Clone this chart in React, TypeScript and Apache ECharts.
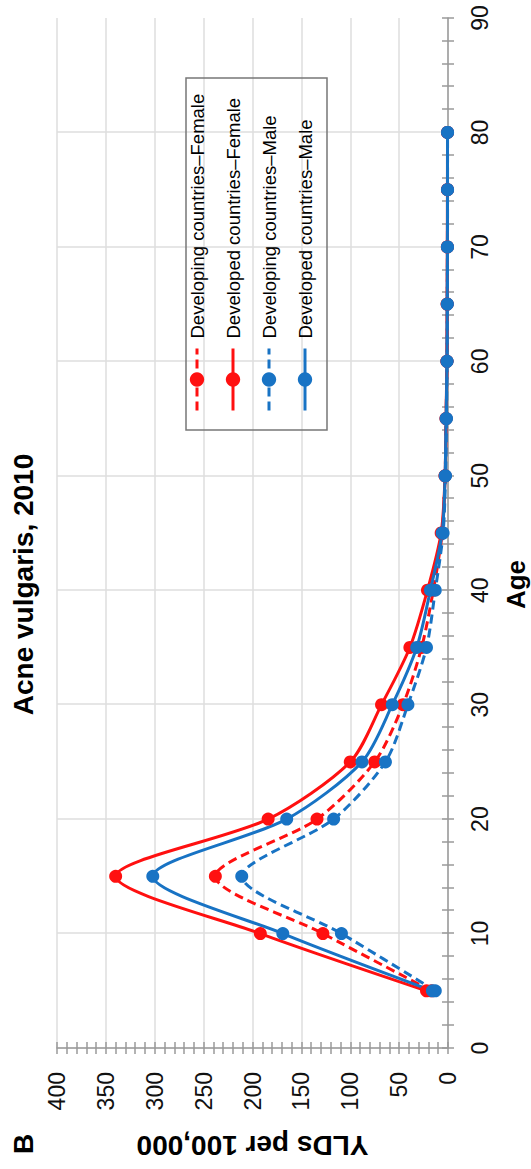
import { useEffect, useRef } from "react";
import * as echarts from "echarts";

// Age groups (years) and YLDs per 100,000 for acne vulgaris, 2010
const ages = [5, 10, 15, 20, 25, 30, 35, 40, 45, 50, 55, 60, 65, 70, 75, 80];
const developingFemale = [17, 128, 238, 134, 75, 46, 27, 15, 6, 3, 2, 1, 0.8, 0.6, 0.5, 0.5];
const developedFemale = [22, 192, 340, 184, 100, 68, 39, 21, 7, 3, 2, 1.2, 0.9, 0.7, 0.6, 0.5];
const developingMale = [13, 109, 211, 117, 64, 41, 22, 13, 5, 2.5, 1.5, 1, 0.7, 0.5, 0.4, 0.4];
const developedMale = [16, 169, 302, 165, 88, 57, 32, 18, 6, 3, 2, 1, 0.8, 0.6, 0.5, 0.5];

const ageTicks = { min: 0, max: 90, interval: 10 };
const yldTicks = { min: 0, max: 400, interval: 50 };

const FONT = "'Liberation Sans', Arial, Helvetica, sans-serif";
const RED = "#ff1010";
const BLUE = "#1873c4";
const GRID_COLOR = "#dedede";
const AXIS_COLOR = "#9a9a9a";

const pairs = (vals: number[]) => ages.map((a, i) => [a, vals[i]]);

export default function App() {
  const ref = useRef<HTMLDivElement>(null);

  useEffect(() => {
    if (!ref.current) return;
    const chart = echarts.init(ref.current, null, { renderer: "svg" });

    const lineSeries = (name: string, vals: number[], color: string, dashed: boolean) => ({
      name,
      type: "line",
      xAxisIndex: 0,
      yAxisIndex: 0,
      data: pairs(vals),
      smooth: 0.28,
      symbol: "circle",
      symbolSize: 13,
      itemStyle: { color },
      lineStyle: { color, width: 3, type: dashed ? [9, 5] : "solid" },
      emphasis: { disabled: true },
    });

    const tickAxisBase = {
      axisLine: { show: false },
      axisLabel: { show: false },
      splitLine: { show: false },
      axisTick: { show: true, inside: true, length: 6, lineStyle: { color: AXIS_COLOR, width: 1.5 } },
      minorTick: { show: true, splitNumber: 5, length: 6, lineStyle: { color: AXIS_COLOR, width: 1.5 } },
    };

    chart.setOption({
      animation: false,
      backgroundColor: "#ffffff",
      textStyle: { fontFamily: FONT },
      title: [
        {
          text: "Acne vulgaris, 2010",
          left: "center",
          top: 4,
          textStyle: { fontFamily: FONT, fontSize: 28, fontWeight: "bold", color: "#000" },
        },
        {
          text: "B",
          left: 10,
          top: 4,
          textStyle: { fontFamily: FONT, fontSize: 28, fontWeight: "bold", color: "#000" },
        },
        {
          text: "Age",
          left: "center",
          top: 498,
          textStyle: { fontFamily: FONT, fontSize: 26, fontWeight: "bold", color: "#000" },
        },
      ],
      grid: { left: 121, right: 18, top: 57, bottom: 83, containLabel: false, outerBoundsMode: "none" },
      legend: {
        orient: "vertical",
        left: 757,
        top: 187,
        padding: 0,
        itemWidth: 62,
        itemHeight: 18,
        itemGap: 16,
        selectedMode: false,
        lineStyle: { width: 3 },
        textStyle: { fontFamily: FONT, fontSize: 18.5, lineHeight: 20, color: "#000", padding: [0, 0, 0, 5] },
        data: [
          "Developing countries–Female",
          "Developed countries–Female",
          "Developing countries–Male",
          "Developed countries–Male",
        ],
      },
      graphic: [
        {
          // frame around the legend
          type: "rect",
          shape: { x: 739, y: 186, width: 352, height: 141 },
          style: { fill: "none", stroke: "#777", lineWidth: 1.5 },
          silent: true,
          z: 100,
        },
      ],
      xAxis: [
        {
          type: "value",
          ...ageTicks,
          position: "bottom",
          axisLine: { show: true, onZero: false, lineStyle: { color: AXIS_COLOR, width: 1.5 } },
          axisTick: { show: true, length: 6, lineStyle: { color: AXIS_COLOR, width: 1.5 } },
          minorTick: { show: true, splitNumber: 5, length: 6, lineStyle: { color: AXIS_COLOR, width: 1.5 } },
          axisLabel: { fontFamily: FONT, fontSize: 23, color: "#111", margin: 20 },
          splitLine: { show: true, showMaxLine: false, lineStyle: { color: GRID_COLOR, width: 1.5 } },
        },
        { type: "value", ...ageTicks, position: "bottom", ...tickAxisBase },
      ],
      yAxis: [
        {
          type: "value",
          ...yldTicks,
          position: "left",
          name: "YLDs per 100,000",
          nameLocation: "middle",
          nameRotate: 90,
          nameGap: 83,
          nameTextStyle: { fontFamily: FONT, fontSize: 28, fontWeight: "bold", color: "#000" },
          axisLine: { show: true, onZero: false, lineStyle: { color: AXIS_COLOR, width: 1.5 } },
          axisTick: { show: true, length: 6, lineStyle: { color: AXIS_COLOR, width: 1.5 } },
          minorTick: { show: true, splitNumber: 5, length: 6, lineStyle: { color: AXIS_COLOR, width: 1.5 } },
          axisLabel: { fontFamily: FONT, fontSize: 23, color: "#111", margin: 24 },
          splitLine: { show: true, lineStyle: { color: GRID_COLOR, width: 1.5 } },
        },
        { type: "value", ...yldTicks, position: "left", ...tickAxisBase },
      ],
      series: [
        lineSeries("Developing countries–Female", developingFemale, RED, true),
        lineSeries("Developed countries–Female", developedFemale, RED, false),
        lineSeries("Developing countries–Male", developingMale, BLUE, true),
        lineSeries("Developed countries–Male", developedMale, BLUE, false),
      ],
    });

    return () => chart.dispose();
  }, []);

  // The figure is laid out landscape and turned a quarter-turn anticlockwise onto the portrait page.
  return (
    <div
      style={{
        position: "fixed",
        left: 0,
        top: 0,
        width: 531,
        height: 1169,
        overflow: "hidden",
        background: "#ffffff",
      }}
    >
      <div
        ref={ref}
        style={{
          position: "absolute",
          left: 0,
          top: 0,
          width: 1169,
          height: 531,
          transformOrigin: "0 0",
          transform: "translateY(1169px) rotate(-90deg)",
        }}
      />
    </div>
  );
}
